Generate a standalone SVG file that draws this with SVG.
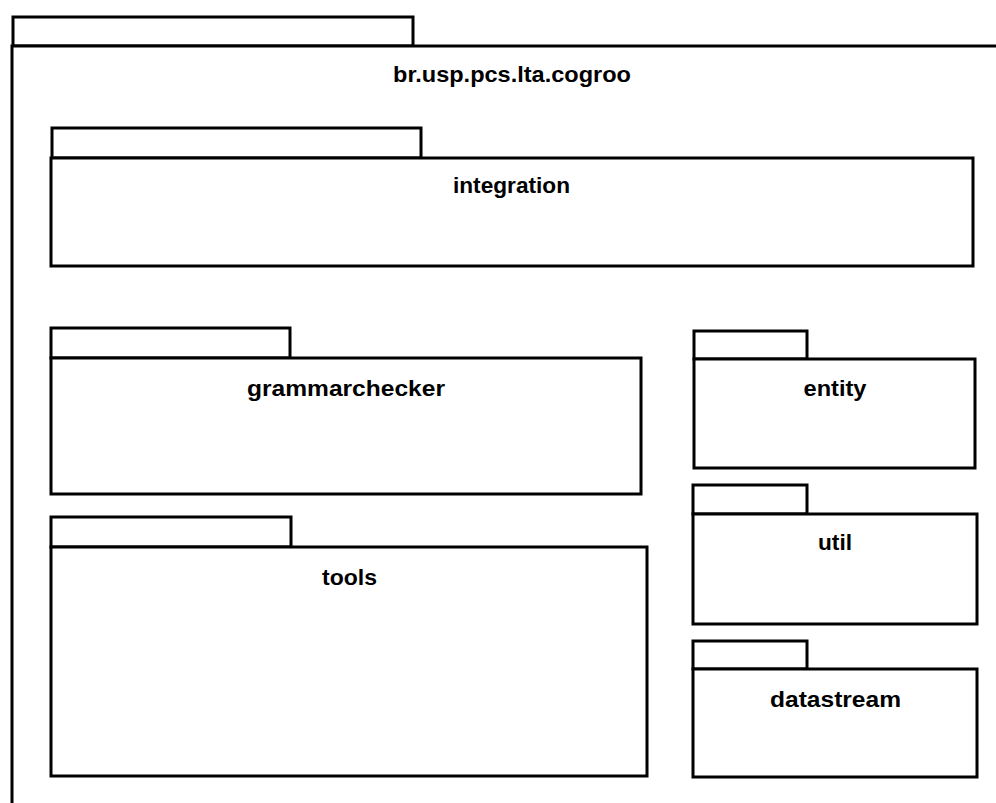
<svg xmlns="http://www.w3.org/2000/svg" width="996" height="803" viewBox="0 0 996 803">
<style>
.pk{fill:#fff;stroke:#000;stroke-width:3;}
.lb{font-family:"Liberation Sans",Arial,sans-serif;font-weight:bold;font-size:22px;fill:#000;text-anchor:middle;}
</style>
<rect width="996" height="803" fill="#fff"/>
<g id="cogroo">
<rect class="pk" x="13" y="17" width="400" height="29"/>
<path class="pk" d="M1000,46 H12 V810"/>
<text class="lb" x="512" y="82" textLength="238" lengthAdjust="spacingAndGlyphs">br.usp.pcs.lta.cogroo</text>
</g>
<g id="integration">
<rect class="pk" x="52" y="128" width="369" height="30"/>
<rect class="pk" x="51" y="158" width="922" height="108"/>
<text class="lb" x="511.5" y="193" textLength="117" lengthAdjust="spacingAndGlyphs">integration</text>
</g>
<g id="grammarchecker">
<rect class="pk" x="51" y="328" width="239" height="30"/>
<rect class="pk" x="51" y="358" width="590" height="136"/>
<text class="lb" x="346" y="396" textLength="198" lengthAdjust="spacingAndGlyphs">grammarchecker</text>
</g>
<g id="tools">
<rect class="pk" x="51" y="517" width="240" height="30"/>
<rect class="pk" x="51" y="547" width="596" height="229"/>
<text class="lb" x="349.5" y="585" textLength="55" lengthAdjust="spacingAndGlyphs">tools</text>
</g>
<g id="entity">
<rect class="pk" x="694" y="331" width="113" height="28"/>
<rect class="pk" x="694" y="359" width="281" height="109"/>
<text class="lb" x="835" y="396" textLength="63" lengthAdjust="spacingAndGlyphs">entity</text>
</g>
<g id="util">
<rect class="pk" x="693" y="485" width="114" height="29"/>
<rect class="pk" x="693" y="514" width="284" height="110"/>
<text class="lb" x="835" y="550" textLength="34" lengthAdjust="spacingAndGlyphs">util</text>
</g>
<g id="datastream">
<rect class="pk" x="693" y="641" width="114" height="28"/>
<rect class="pk" x="693" y="669" width="284" height="108"/>
<text class="lb" x="835.5" y="707" textLength="131" lengthAdjust="spacingAndGlyphs">datastream</text>
</g>
<g id="connectors"></g>
</svg>
